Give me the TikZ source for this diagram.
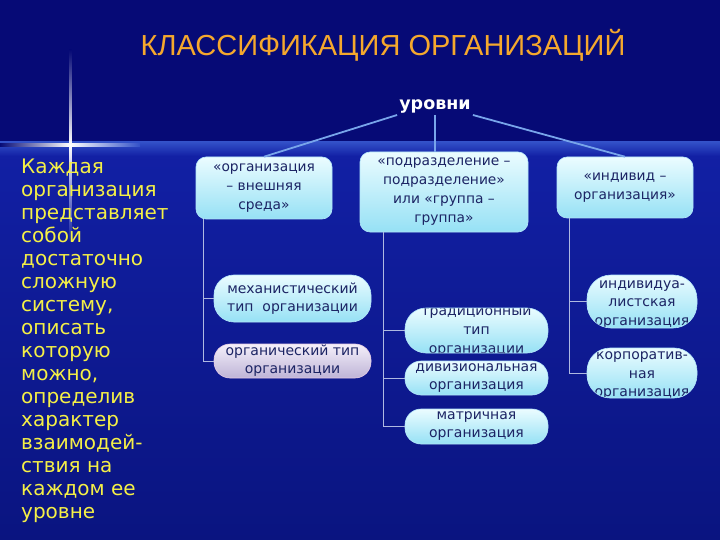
\documentclass[tikz,border=0pt]{standalone}
\usepackage{fontspec}
\setmainfont{DejaVu Sans}
\newfontfamily\titlefont{Liberation Sans}
\definecolor{bgtop}{RGB}{6,10,118}
\definecolor{bglow}{RGB}{18,32,165}
\definecolor{bglow2}{RGB}{10,20,128}
\definecolor{bgband}{RGB}{50,80,200}
\definecolor{boxtxt}{RGB}{28,36,100}
\definecolor{linkc}{RGB}{120,165,235}
\definecolor{treec}{RGB}{175,185,225}
\definecolor{titlec}{RGB}{245,168,45}
\definecolor{lefttxt}{RGB}{245,240,70}
\definecolor{boxtop}{RGB}{235,252,255}
\definecolor{boxbot}{RGB}{150,225,245}
\definecolor{orgtop}{RGB}{245,240,250}
\definecolor{orgbot}{RGB}{190,180,215}
\begin{document}
\begin{tikzpicture}[x=1pt,y=-1pt,
 topbox/.style={rounded corners=10pt, top color=boxtop, bottom color=boxbot, draw=white!70!cyan, line width=0.6pt, text=boxtxt, align=center, font=\fontsize{13.8}{19}\selectfont, inner sep=0pt},
 pill/.style={top color=boxtop, bottom color=boxbot, draw=white!70!cyan, line width=0.6pt, text=boxtxt, align=center, font=\fontsize{14}{18}\selectfont, inner sep=0pt},
 link/.style={draw=linkc, line width=1.8pt},
 tree/.style={draw=treec, line width=0.9pt},
 cliptxt/.style={text=boxtxt, align=center, font=\fontsize{14}{19}\selectfont, inner sep=0pt, draw=none, fill=none}]
\useasboundingbox (0,0) rectangle (720,540);
% background
\fill[bgtop] (0,0) rectangle (720,540);
\shade[top color=bglow, bottom color=bglow2] (0,142) rectangle (720,540);
\shade[top color=bgband, bottom color=bglow] (0,142) rectangle (720,156);
\shade[left color=bgtop, right color=bgband, middle color=white] (0,144) rectangle (140,146.5);
\shade[top color=bgtop, bottom color=bglow, middle color=white] (69,50) rectangle (71.5,240);
% title
\node[font=\titlefont\fontsize{29}{32}\selectfont, text=titlec] (title) at (383,45) {КЛАССИФИКАЦИЯ ОРГАНИЗАЦИЙ};
\node[font=\bfseries\fontsize{17.5}{20}\selectfont, text=white, inner sep=2pt] (lev) at (435,106) {уровни};
% left text
\node[anchor=north west, align=left, text=lefttxt, font=\fontsize{20}{23}\selectfont, inner sep=0pt] (desc) at (21,159) {Каждая\\организация\\представляет\\собой\\достаточно\\сложную\\систему,\\описать\\которую\\можно,\\определив\\характер\\взаимодей-\\ствия на\\каждом ее\\уровне};
% top boxes
\node[topbox, minimum width=136pt, minimum height=62pt] (B1) at (264,188) {«организация\\– внешняя\\среда»};
\node[topbox, minimum width=168pt, minimum height=80pt] (B2) at (444,192) {«подразделение –\\подразделение»\\или «группа –\\группа»};
\node[topbox, minimum width=136pt, minimum height=61pt] (B3) at (625,187.5) {«индивид –\\организация»};
% column 1
\node[pill, rounded corners=20pt, minimum width=157pt, minimum height=47pt] (mech) at (292.5,298.5) {механистический\\тип\ \ организации};
\node[pill, rounded corners=16pt, top color=orgtop, bottom color=orgbot, draw=white!80!violet, minimum width=157pt, minimum height=34pt] (organ) at (292.5,361) {органический тип\\организации};
% column 2
\node[pill, rounded corners=21pt, minimum width=143pt, minimum height=45pt,
  path picture={\node[cliptxt] at (path picture bounding box.center) {традиционный\\тип\\организации};}] (trad) at (476.5,330.5) {};
\node[pill, rounded corners=16pt, minimum width=143pt, minimum height=34pt] (div) at (476.5,378) {дивизиональная\\организация};
\node[pill, rounded corners=16pt, minimum width=143pt, minimum height=35pt] (matrix) at (476.5,426.5) {матричная\\организация};
% column 3
\node[pill, rounded corners=24pt, minimum width=110pt, minimum height=53pt,
  path picture={\node[cliptxt, font=\fontsize{14}{18.5}\selectfont] at ([yshift=-3pt]path picture bounding box.center) {индивидуа-\\листская\\организация};}] (indiv) at (642,301.5) {};
\node[pill, rounded corners=23pt, minimum width=110pt, minimum height=50pt,
  path picture={\node[cliptxt, font=\fontsize{14}{18.5}\selectfont] at ([yshift=-3pt]path picture bounding box.center) {корпоратив-\\ная\\организация};}] (corp) at (642,373) {};
% links from уровни
\draw[link] (lev.south west) -- (B1.north);
\draw[link] (lev.south) -- (lev.south |- B2.north);
\draw[link] (lev.south east) -- (B3.north);
% tree lines
\coordinate (c1) at (203.5,0);
\coordinate (c2) at (383,0);
\coordinate (c3) at (569,0);
\draw[tree] (B1.south -| c1) |- (mech.west);
\draw[tree] (B1.south -| c1) |- (organ.west);
\draw[tree] (B2.south -| c2) |- (trad.west);
\draw[tree] (B2.south -| c2) |- (div.west);
\draw[tree] (B2.south -| c2) |- (matrix.west);
\draw[tree] (B3.south -| c3) |- (indiv.west);
\draw[tree] (B3.south -| c3) |- (corp.west);
\end{tikzpicture}
\end{document}
